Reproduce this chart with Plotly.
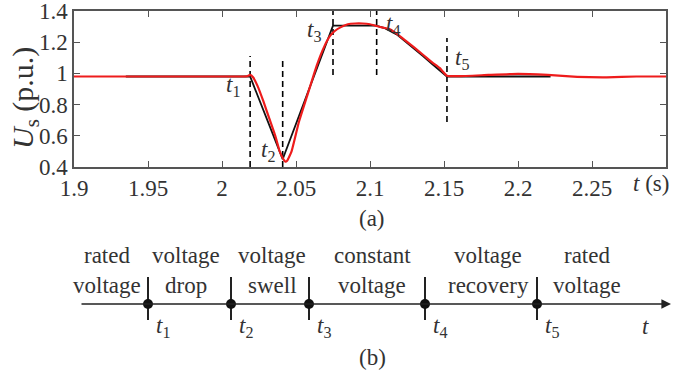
import plotly.graph_objects as go

# ---------------- data (panel a) ----------------
red_t = [1.9, 2.0, 2.017, 2.019, 2.021, 2.024, 2.028, 2.032, 2.036, 2.039, 2.0415, 2.0428,
         2.044, 2.047, 2.052, 2.058, 2.064, 2.069, 2.073, 2.076, 2.08, 2.085, 2.09, 2.095,
         2.1, 2.104, 2.108, 2.113, 2.118, 2.124, 2.13, 2.136, 2.142, 2.147, 2.152, 2.16,
         2.18, 2.2, 2.22, 2.24, 2.26, 2.28, 2.3]
red_v = [0.98, 0.98, 0.982, 0.99, 0.975, 0.92, 0.82, 0.71, 0.6, 0.5, 0.45, 0.434,
         0.44, 0.5, 0.69, 0.87, 1.05, 1.17, 1.24, 1.27, 1.295, 1.315, 1.32, 1.32,
         1.315, 1.305, 1.295, 1.285, 1.255, 1.21, 1.165, 1.118, 1.07, 1.035, 0.985, 0.982,
         0.99, 0.997, 0.99, 0.978, 0.975, 0.98, 0.98]

black_t = [1.935, 2.019, 2.041, 2.075, 2.104, 2.11, 2.118, 2.124, 2.13, 2.136, 2.142,
           2.147, 2.152, 2.222]
black_v = [0.98, 0.98, 0.45, 1.306, 1.306, 1.29, 1.25, 1.205, 1.16, 1.11, 1.06,
           1.02, 0.98, 0.98]

event_t = [2.019, 2.041, 2.075, 2.1045, 2.152]
dash_lo = [0.4, 0.4, 0.99, 0.99, 0.688]
dash_hi = [1.112, 1.086, 1.4, 1.4, 1.227]
event_names = ["1", "2", "3", "4", "5"]
label_t = [2.0074, 2.031, 2.0622, 2.1155, 2.1622]
label_v = [0.92, 0.5, 1.275, 1.31, 1.09]

x_ticks = [1.9, 1.95, 2.0, 2.05, 2.1, 2.15, 2.2, 2.25]
x_ticktext = ["1.9", "1.95", "2", "2.05", "2.1", "2.15", "2.2", "2.25"]
y_ticks = [0.4, 0.6, 0.8, 1.0, 1.2, 1.4]
y_ticktext = ["0.4", "0.6", "0.8", "1", "1.2", "1.4"]

# ---------------- data (panel b, schematic timeline) ----------------
tl_events = [148, 231, 309, 425, 537]
tl_start, tl_end = 80, 671
phase_x = [107, 186, 272, 372, 488, 587]
phase_top = ["rated", "voltage", "voltage", "constant", "voltage", "rated"]
phase_bot = ["voltage", "drop", "swell", "voltage", "recovery", "voltage"]

FONT = "Liberation Serif, Times New Roman, serif"
TXT = "#333333"
FRAME = "#555555"

fig = go.Figure()

# dashed event lines
for t, lo, hi in zip(event_t, dash_lo, dash_hi):
    fig.add_trace(go.Scatter(x=[t, t], y=[lo, hi], mode="lines",
                             line=dict(color="black", width=1.6, dash="6px,4px"),
                             xaxis="x", yaxis="y", showlegend=False, hoverinfo="skip"))

fig.add_trace(go.Scatter(x=black_t, y=black_v, mode="lines",
                         line=dict(color="#111111", width=1.8), showlegend=False))
fig.add_trace(go.Scatter(x=red_t, y=red_v, mode="lines",
                         line=dict(color="#ee1c1c", width=2.2, shape="spline", smoothing=0.4),
                         showlegend=False))

annotations = []
for name, lt, lv in zip(event_names, label_t, label_v):
    annotations.append(dict(x=lt, y=lv, xref="x", yref="y", showarrow=False,
                            xanchor="center", yanchor="middle",
                            text=f"<i>t</i><sub>{name}</sub>",
                            font=dict(family=FONT, size=23, color=TXT)))

# axis text
annotations.append(dict(x=2.29, y=1 - 183 / 376, xref="x", yref="paper", showarrow=False,
                        text="<i>t</i> (s)", xanchor="center", yanchor="middle",
                        font=dict(family=FONT, size=23, color=TXT)))
annotations.append(dict(x=25 / 673, y=1 - 98 / 376, xref="paper", yref="paper",
                        xanchor="center", yanchor="middle",
                        showarrow=False, text="<i>U</i><sub>s</sub> (p.u.)", textangle=-90,
                        font=dict(family=FONT, size=30, color=TXT)))
annotations.append(dict(x=372 / 673, y=1 - 218 / 376, xref="paper", yref="paper",
                        xanchor="center", yanchor="middle",
                        showarrow=False, text="(a)",
                        font=dict(family=FONT, size=23, color=TXT)))

# ---------------- panel b ----------------
annotations.append(dict(x=tl_end, y=304, ax=tl_start, ay=304, xref="x2", yref="y2",
                        axref="x2", ayref="y2", showarrow=True, arrowhead=2,
                        arrowsize=1.2, arrowwidth=1.6, arrowcolor="#222222", text=""))
for ex in tl_events:
    fig.add_trace(go.Scatter(x=[ex, ex], y=[277, 320], mode="lines",
                             line=dict(color="#222222", width=2),
                             xaxis="x2", yaxis="y2", showlegend=False, hoverinfo="skip"))
fig.add_trace(go.Scatter(x=tl_events, y=[304] * len(tl_events), mode="markers",
                         marker=dict(color="#111111", size=10),
                         xaxis="x2", yaxis="y2", showlegend=False, hoverinfo="skip"))
for name, ex in zip(event_names, tl_events):
    annotations.append(dict(x=ex + 15, y=327, xref="x2", yref="y2", showarrow=False,
                            xanchor="center", yanchor="middle",
                            text=f"<i>t</i><sub>{name}</sub>",
                            font=dict(family=FONT, size=23, color=TXT)))
annotations.append(dict(x=645, y=326, xref="x2", yref="y2", showarrow=False,
                        xanchor="center", yanchor="middle",
                        text="<i>t</i>", font=dict(family=FONT, size=23, color=TXT)))
for px, top, bot in zip(phase_x, phase_top, phase_bot):
    annotations.append(dict(x=px, y=255, xref="x2", yref="y2", showarrow=False,
                            xanchor="center", yanchor="middle",
                            text=top, font=dict(family=FONT, size=23, color=TXT)))
    annotations.append(dict(x=px, y=285, xref="x2", yref="y2", showarrow=False,
                            xanchor="center", yanchor="middle",
                            text=bot, font=dict(family=FONT, size=23, color=TXT)))
annotations.append(dict(x=372, y=357, xref="x2", yref="y2", showarrow=False,
                        xanchor="center", yanchor="middle",
                        text="(b)", font=dict(family=FONT, size=23, color=TXT)))

fig.update_layout(
    template="none",
    width=673, height=376,
    margin=dict(l=0, r=0, t=0, b=0, pad=0),
    paper_bgcolor="white", plot_bgcolor="white",
    showlegend=False,
    font=dict(family=FONT, size=22, color=TXT),
    xaxis=dict(domain=[74 / 673, 666 / 673], range=[1.9, 2.3], anchor="y",
               automargin=False, ticklabeloverflow="allow",
               tickvals=x_ticks, ticktext=x_ticktext, ticks="inside", ticklen=6,
               tickcolor=FRAME, tickwidth=1.2, showline=True, linecolor=FRAME,
               linewidth=1.5, mirror="allticks", showgrid=False, zeroline=False,
               tickfont=dict(family=FONT, size=23, color=TXT)),
    yaxis=dict(domain=[1 - 167 / 376, 1 - 11 / 376], range=[0.4, 1.4], anchor="x",
               automargin=False, ticklabeloverflow="allow",
               tickvals=y_ticks, ticktext=y_ticktext, ticks="inside", ticklen=6,
               tickcolor=FRAME, tickwidth=1.2, showline=True, linecolor=FRAME,
               linewidth=1.5, mirror="allticks", showgrid=False, zeroline=False,
               tickfont=dict(family=FONT, size=23, color=TXT)),
    xaxis2=dict(domain=[0, 1], range=[0, 673], anchor="y2", visible=False,
                automargin=False, fixedrange=True),
    yaxis2=dict(domain=[0, 0.5], range=[376, 188], anchor="x2", visible=False,
                automargin=False, fixedrange=True),
    annotations=annotations,
)

fig.write_html("out.html")
